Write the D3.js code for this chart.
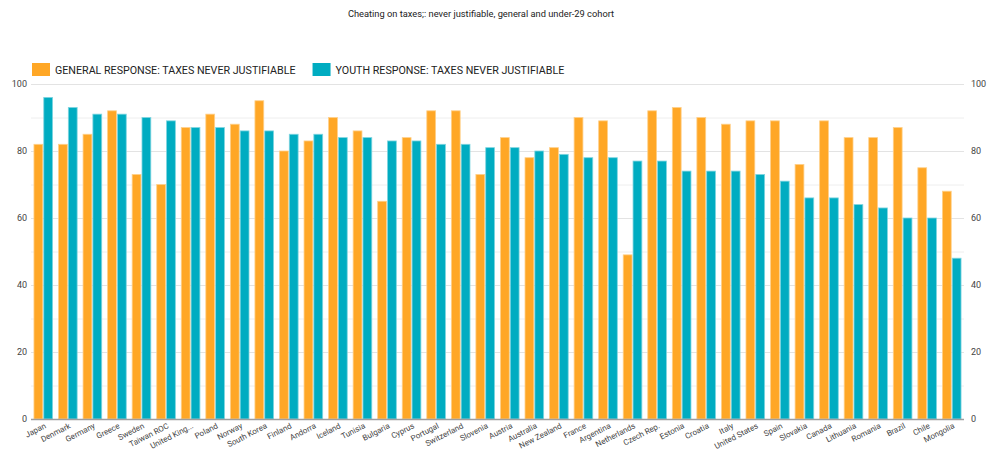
<!DOCTYPE html>
<html>
<head>
<meta charset="utf-8">
<script src="https://cdn.jsdelivr.net/npm/d3@7"></script>
<style>
  body { margin: 0; background: #fff; }
  text { font-family: Roboto, "Noto Sans", sans-serif; }
</style>
</head>
<body>
<div id="chart"></div>
<script>
"use strict";

// data
var countries = ["Japan","Denmark","Germany","Greece","Sweden","Taiwan ROC","United King...","Poland","Norway","South Korea",
  "Finland","Andorra","Iceland","Tunisia","Bulgaria","Cyprus","Portugal","Switzerland","Slovenia","Austria",
  "Australia","New Zealand","France","Argentina","Netherlands","Czech Rep.","Estonia","Croatia","Italy","United States",
  "Spain","Slovakia","Canada","Lithuania","Romania","Brazil","Chile","Mongolia"];
var general = [82,82,85,92,73,70,87,91,88,95, 80,83,90,86,65,84,92,92,73,84, 78,81,90,89,49,92,93,90,88,89, 89,76,89,84,84,87,75,68];
var youth   = [96,93,91,91,90,89,87,87,86,86, 85,85,84,84,83,83,82,82,81,81, 80,79,78,78,77,77,74,74,74,73, 71,66,66,64,63,60,60,48];
var seriesNames = ["GENERAL RESPONSE: TAXES NEVER JUSTIFIABLE", "YOUTH RESPONSE: TAXES NEVER JUSTIFIABLE"];
var colors = ["#FFA726", "#00ACC1"];
var yTicks = [0,20,40,60,80,100];
var title = "Cheating on taxes;: never justifiable, general and under-29 cohort";

var W = 987, H = 450;
var margin = {top: 84, right: 23, bottom: 31, left: 31},
    width = W - margin.left - margin.right,
    height = H - margin.top - margin.bottom;

var svg = d3.select("#chart").append("svg")
    .attr("width", W)
    .attr("height", H);

svg.append("text")
    .attr("x", 481)
    .attr("y", 17)
    .attr("text-anchor", "middle")
    .attr("font-size", 9.3)
    .attr("fill", "#222")
    .text(title);

// legend
var legend = svg.append("g").attr("transform", "translate(32,63)");
var lx = 0;
seriesNames.forEach(function(name, i) {
  var g = legend.append("g").attr("transform", "translate(" + lx + ",0)");
  g.append("rect").attr("width", 18).attr("height", 13).attr("fill", colors[i]);
  var t = g.append("text").attr("x", 23).attr("y", 11)
    .attr("font-size", 10.7).attr("fill", "#222").text(name);
  lx += 23 + t.node().getComputedTextLength() + 17;
});

var plot = svg.append("g")
    .attr("transform", "translate(" + margin.left + "," + margin.top + ")");

var x = d3.scaleBand().domain(countries).range([0, width]).paddingInner(0.2).paddingOuter(0.1);
var xs = d3.scaleBand().domain([0, 1]).range([0, x.bandwidth()]);
var y = d3.scaleLinear().domain([0, 100]).range([height, 0]);

// gridlines every 10
plot.append("g").selectAll("line")
  .data(d3.range(10, 101, 10))
  .enter().append("line")
    .attr("x1", 0).attr("x2", width)
    .attr("y1", function(d) { return y(d) + 0.5; })
    .attr("y2", function(d) { return y(d) + 0.5; })
    .attr("stroke", function(d) { return d % 20 === 0 ? "#e3e3e3" : "#eeeeee"; })
    .attr("stroke-width", 1);

// bars
var groups = plot.selectAll(".grp")
  .data(countries)
  .enter().append("g")
    .attr("class", "grp")
    .attr("transform", function(d) { return "translate(" + x(d) + ",0)"; });

groups.each(function(c, i) {
  var vals = [general[i], youth[i]];
  d3.select(this).selectAll("rect")
    .data(vals)
    .enter().append("rect")
      .attr("x", function(v, j) { return xs(j) + 0.5; })
      .attr("width", xs.bandwidth() - 1)
      .attr("y", function(v) { return y(v); })
      .attr("height", function(v) { return height - y(v); })
      .attr("fill", function(v, j) { return colors[j]; })
      .attr("stroke", function(v, j) { return j === 0 ? "#ffd08a" : "#7fd5e0"; })
      .attr("stroke-width", 0.8);
});

// baseline
plot.append("line")
  .attr("x1", 0).attr("x2", width)
  .attr("y1", height + 0.5).attr("y2", height + 0.5)
  .attr("stroke", "#9e9e9e").attr("stroke-width", 1.5);

// y axes, left and right
var yLeft = plot.append("g").call(d3.axisLeft(y).tickValues(yTicks).tickSize(0).tickPadding(4));
var yRight = plot.append("g").attr("transform", "translate(" + width + ",0)")
  .call(d3.axisRight(y).tickValues(yTicks).tickSize(0).tickPadding(7));
[yLeft, yRight].forEach(function(a) {
  a.select(".domain").remove();
  a.selectAll("text").attr("font-size", 9).attr("fill", "#444").attr("font-family", "Roboto, sans-serif");
});

// x labels
plot.append("g").selectAll("text")
  .data(countries)
  .enter().append("text")
    .attr("transform", function(d) {
      return "translate(" + (x(d) + x.bandwidth() / 2 + 1) + "," + (height + 4) + ") rotate(-27)";
    })
    .attr("text-anchor", "end")
    .attr("dy", "0.65em")
    .attr("font-size", 8)
    .attr("fill", "#444")
    .text(function(d) { return d; });
</script>
</body>
</html>
